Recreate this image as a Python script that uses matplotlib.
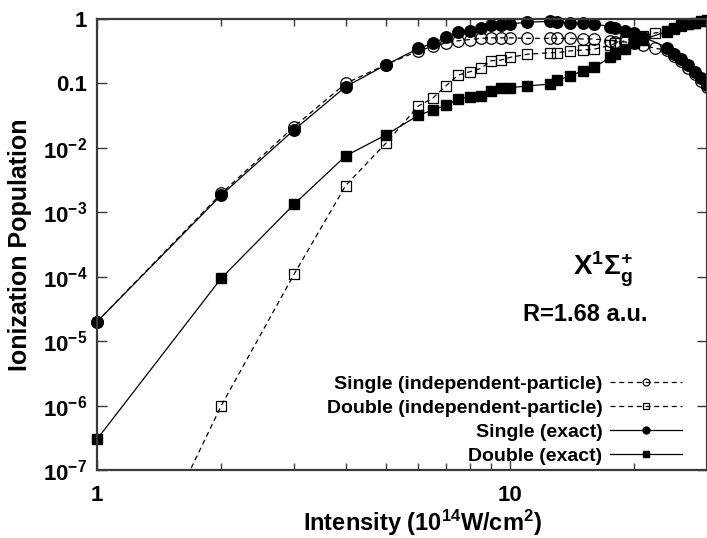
import matplotlib
matplotlib.use("Agg")
import matplotlib.pyplot as plt
from matplotlib.ticker import FixedLocator, LogLocator, NullFormatter

plt.rcParams["font.family"] = ["Liberation Sans", "DejaVu Sans"]
plt.rcParams["font.weight"] = "bold"
plt.rcParams["mathtext.fontset"] = "custom"
plt.rcParams["mathtext.rm"] = "Liberation Sans"
plt.rcParams["mathtext.bf"] = "Liberation Sans:bold"
plt.rcParams["mathtext.it"] = "Liberation Sans:bold"
plt.rcParams["mathtext.default"] = "bf"

# Laser intensity (10^14 W/cm^2)
intensity_exact = [1, 2, 3, 4, 5, 6, 6.5, 7, 7.5, 8, 8.5, 9, 9.5, 10, 11, 12.5, 13,
                   14, 15, 16, 17.5, 18, 19, 20, 21, 24, 25, 26, 27, 28, 29, 30]
intensity_ip = [1, 2, 3, 4, 5, 6, 6.5, 7, 7.5, 8, 8.5, 9, 9.5, 10, 11, 12.5, 13,
                14, 15, 16, 17.5, 18, 19, 20, 21, 22.5, 24, 25, 26, 27, 28, 29, 30]

single_ip = [2e-5, 1.96e-3, 0.0213, 0.10, 0.195, 0.32, 0.375, 0.425, 0.46, 0.48,
             0.50, 0.51, 0.51, 0.51, 0.50, 0.50, 0.50, 0.50, 0.49, 0.49, 0.46,
             0.44, 0.44, 0.42, 0.39, 0.35, 0.33, 0.27, 0.22, 0.175, 0.14, 0.11, 0.087]
double_ip = [1e-10, 1e-6, 1.09e-4, 2.6e-3, 0.0117, 0.0446, 0.059, 0.092, 0.135,
             0.152, 0.171, 0.225, 0.23, 0.254, 0.283, 0.30, 0.30, 0.32, 0.33, 0.34,
             0.39, 0.42, 0.46, 0.50, 0.55, 0.61, 0.63, 0.71, 0.79, 0.83, 0.87, 0.92, 0.95]
single_exact = [2e-5, 1.85e-3, 0.019, 0.089, 0.193, 0.35, 0.42, 0.52, 0.62, 0.65,
                0.72, 0.81, 0.81, 0.84, 0.89, 0.92, 0.89, 0.88, 0.87, 0.84, 0.76,
                0.72, 0.66, 0.60, 0.53, 0.36, 0.29, 0.24, 0.19, 0.15, 0.12, 0.094]
double_exact = [3e-7, 9.5e-5, 1.33e-3, 7.5e-3, 0.0158, 0.032, 0.0386, 0.046, 0.057,
                0.062, 0.063, 0.077, 0.085, 0.086, 0.091, 0.098, 0.113, 0.13, 0.158,
                0.178, 0.254, 0.283, 0.34, 0.42, 0.48, 0.64, 0.72, 0.80, 0.84, 0.88,
                0.93, 0.96]

y_ticks = [1e-7, 1e-6, 1e-5, 1e-4, 1e-3, 1e-2, 0.1, 1]
y_ticklabels = [r"$10^{-7}$", r"$10^{-6}$", r"$10^{-5}$", r"$10^{-4}$",
                r"$10^{-3}$", r"$10^{-2}$", "0.1", "1"]
x_ticks = [1, 10]
x_ticklabels = ["1", "10"]

fig = plt.figure(figsize=(7.07, 5.38), dpi=100)
ax = fig.add_axes([97 / 707, 1 - 470 / 538, 610 / 707, 451 / 538])
ax.set_xscale("log")
ax.set_yscale("log")
ax.set_xlim(1, 30)
ax.set_ylim(1e-7, 1)

dash = (0, (4, 3))
ms = 8.3
ax.plot(intensity_ip, single_ip, color="black", lw=0.9, ls=dash, marker="o",
        ms=ms, mfc="none", mec="black", mew=0.9, clip_on=False,
        label="Single (independent-particle)")
ax.plot(intensity_ip, double_ip, color="black", lw=0.9, ls=dash, marker="s",
        ms=ms - 0.6, mfc="none", mec="black", mew=0.9, clip_on=True,
        label="Double (independent-particle)")
ax.plot(intensity_exact, single_exact, color="black", lw=0.9, ls="-", marker="o",
        ms=ms, mfc="black", mec="black", clip_on=False, label="Single (exact)")
ax.plot(intensity_exact, double_exact, color="black", lw=0.9, ls="-", marker="s",
        ms=ms - 0.6, mfc="black", mec="black", clip_on=False, label="Double (exact)")

ax.yaxis.set_major_locator(FixedLocator(y_ticks))
ax.set_yticklabels(y_ticklabels)
ax.yaxis.set_minor_locator(FixedLocator([]))
ax.xaxis.set_major_locator(FixedLocator(x_ticks))
ax.set_xticklabels(x_ticklabels)
ax.xaxis.set_minor_locator(LogLocator(base=10, subs=range(2, 10)))
ax.xaxis.set_minor_formatter(NullFormatter())

spine_color = "#3a3a3a"
for s in ax.spines.values():
    s.set_linewidth(1.6)
    s.set_color(spine_color)
ax.tick_params(which="both", direction="in", top=True, right=True,
               color=spine_color, width=1.0)
ax.tick_params(which="major", length=7, labelsize=16, pad=7)
ax.tick_params(which="minor", length=5)
ax.tick_params(axis="x", which="major", pad=11)

ax.set_xlabel(r"Intensity (10$^{14}$W/cm$^{2}$)", fontsize=17, fontweight="bold")
ax.xaxis.set_label_coords((422 - 97) / 610, -0.083)
ax.set_ylabel("Ionization Population", fontsize=18, fontweight="bold", labelpad=8)

ax.text(0.83, 0.445, r"X$^{1}$$\mathrm{\Sigma}_{g}^{+}$", transform=ax.transAxes,
        fontsize=20, fontweight="bold", ha="center", va="center")
ax.text(0.80, 0.345, "R=1.68 a.u.", transform=ax.transAxes, fontsize=17,
        fontweight="bold", ha="center", va="center")

leg = ax.legend(loc="lower right", bbox_to_anchor=(0.959, 0.012), frameon=False,
                markerfirst=False, handlelength=3.7, handletextpad=0.4,
                labelspacing=0.33, borderpad=0, borderaxespad=0, markerscale=0.6,
                prop={"family": "Liberation Sans", "weight": "bold", "size": 14})

fig.savefig("out.png", dpi=100)
